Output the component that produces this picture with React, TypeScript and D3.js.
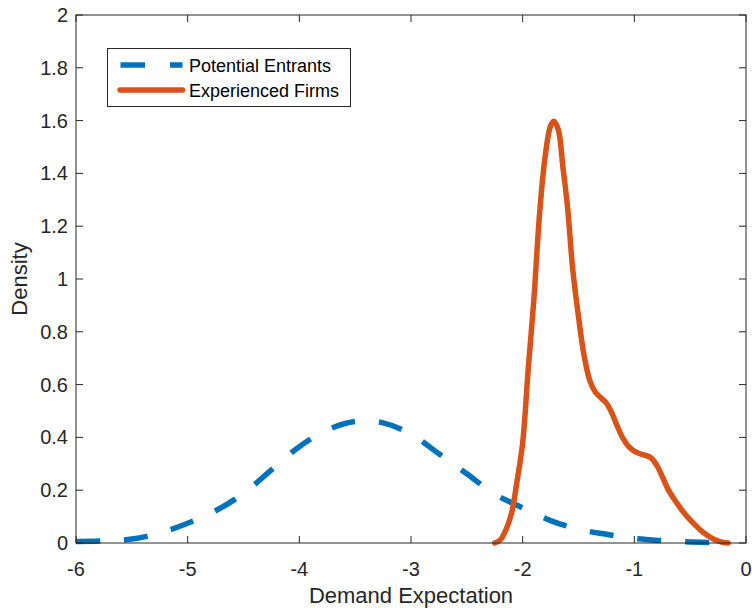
import { useRef, useEffect } from "react";
import * as d3 from "d3";

const entrantX = [-6, -5.75, -5.5, -5.25, -5, -4.75, -4.5, -4.25, -4, -3.75, -3.5, -3.25, -3, -2.75, -2.5, -2.25, -2, -1.75, -1.5, -1.25, -1, -0.75, -0.5, -0.25];
const entrantY = [0.006, 0.008, 0.015, 0.038, 0.075, 0.122, 0.188, 0.277, 0.365, 0.428, 0.46, 0.455, 0.412, 0.338, 0.262, 0.185, 0.133, 0.085, 0.052, 0.033, 0.017, 0.009, 0.004, 0.001];

const firmX = [-2.25, -2.2, -2.15, -2.1, -2.05, -2, -1.95, -1.9, -1.85, -1.8, -1.75, -1.72, -1.68, -1.64, -1.6, -1.55, -1.5, -1.45, -1.4, -1.35, -1.3, -1.25, -1.2, -1.15, -1.1, -1.05, -1, -0.95, -0.9, -0.85, -0.8, -0.75, -0.7, -0.65, -0.6, -0.55, -0.5, -0.45, -0.4, -0.35, -0.3, -0.25, -0.2, -0.16];
const firmY = [0, 0.012, 0.05, 0.112, 0.235, 0.38, 0.66, 0.92, 1.24, 1.46, 1.58, 1.598, 1.564, 1.425, 1.28, 1.03, 0.857, 0.71, 0.617, 0.572, 0.55, 0.53, 0.491, 0.44, 0.395, 0.365, 0.348, 0.338, 0.332, 0.322, 0.295, 0.252, 0.205, 0.17, 0.14, 0.112, 0.088, 0.066, 0.046, 0.03, 0.017, 0.008, 0.002, 0];

const xTicks = [-6, -5, -4, -3, -2, -1, 0];
const yTicks = [0, 0.2, 0.4, 0.6, 0.8, 1, 1.2, 1.4, 1.6, 1.8, 2];
const seriesNames = ["Potential Entrants", "Experienced Firms"];

export default function App() {
  const ref = useRef<SVGSVGElement>(null);

  useEffect(() => {
    const width = 752;
    const height = 608;
    const margin = { top: 15, right: 6, bottom: 65, left: 76 };
    const axisColor = "#262626";
    const font = "Liberation Sans, Arial, Helvetica, sans-serif";

    const svg = d3.select(ref.current);
    svg.selectAll("*").remove();
    svg.attr("width", width).attr("height", height).attr("font-family", font);

    const x = d3.scaleLinear().domain([-6, 0]).range([margin.left, width - margin.right]);
    const y = d3.scaleLinear().domain([0, 2]).range([height - margin.bottom, margin.top]);
    const [x0, x1] = x.range();
    const [y0, y1] = y.range();

    const line = d3
      .line<[number, number]>()
      .x((d) => x(d[0]))
      .y((d) => y(d[1]))
      .curve(d3.curveCatmullRom.alpha(0.5));

    // curves
    svg
      .append("path")
      .attr("d", line(entrantX.map((v, i) => [v, entrantY[i]])))
      .attr("fill", "none")
      .attr("stroke", "#0072BD")
      .attr("stroke-width", 5.5)
      .attr("stroke-dasharray", "24 24");

    svg
      .append("path")
      .attr("d", line(firmX.map((v, i) => [v, firmY[i]])))
      .attr("fill", "none")
      .attr("stroke", "#D95319")
      .attr("stroke-width", 5.5)
      .attr("stroke-linejoin", "round")
      .attr("stroke-linecap", "round");

    // box
    svg
      .append("rect")
      .attr("x", x0)
      .attr("y", y1)
      .attr("width", x1 - x0)
      .attr("height", y0 - y1)
      .attr("fill", "none")
      .attr("stroke", axisColor)
      .attr("stroke-width", 1);

    const tick = 7;
    const g = svg.append("g").attr("stroke", axisColor).attr("stroke-width", 1);
    xTicks.forEach((t) => {
      g.append("line").attr("x1", x(t)).attr("x2", x(t)).attr("y1", y0).attr("y2", y0 - tick);
      g.append("line").attr("x1", x(t)).attr("x2", x(t)).attr("y1", y1).attr("y2", y1 + tick);
    });
    yTicks.forEach((t) => {
      g.append("line").attr("x1", x0).attr("x2", x0 + tick).attr("y1", y(t)).attr("y2", y(t));
      g.append("line").attr("x1", x1).attr("x2", x1 - tick).attr("y1", y(t)).attr("y2", y(t));
    });

    svg
      .append("g")
      .selectAll("text")
      .data(xTicks)
      .join("text")
      .attr("x", (d) => x(d))
      .attr("y", y0 + 33)
      .attr("text-anchor", "middle")
      .attr("font-size", 20)
      .attr("fill", axisColor)
      .text((d) => String(d));

    svg
      .append("g")
      .selectAll("text")
      .data(yTicks)
      .join("text")
      .attr("x", x0 - 8)
      .attr("y", (d) => y(d) + 7)
      .attr("text-anchor", "end")
      .attr("font-size", 20)
      .attr("fill", axisColor)
      .text((d) => d3.format("~g")(d));

    svg
      .append("text")
      .attr("x", (x0 + x1) / 2)
      .attr("y", 603)
      .attr("text-anchor", "middle")
      .attr("font-size", 22)
      .attr("fill", axisColor)
      .text("Demand Expectation");

    svg
      .append("text")
      .attr("transform", `translate(27,${(y0 + y1) / 2}) rotate(-90)`)
      .attr("text-anchor", "middle")
      .attr("font-size", 22)
      .attr("fill", axisColor)
      .text("Density");

    // legend
    const lg = svg.append("g");
    lg.append("rect")
      .attr("x", 107.5)
      .attr("y", 48.5)
      .attr("width", 243)
      .attr("height", 58)
      .attr("fill", "white")
      .attr("stroke", axisColor)
      .attr("stroke-width", 1);
    const legendColors = ["#0072BD", "#D95319"];
    seriesNames.forEach((name, i) => {
      const ly = 65 + i * 25;
      lg.append("line")
        .attr("x1", i === 0 ? 120.5 : 120)
        .attr("x2", 182.5)
        .attr("y1", ly)
        .attr("y2", ly)
        .attr("stroke", legendColors[i])
        .attr("stroke-width", 5.5)
        .attr("stroke-linecap", i === 0 ? "butt" : "round")
        .attr("stroke-dasharray", i === 0 ? "24.5 25" : null);
      lg.append("text")
        .attr("x", 189)
        .attr("y", ly + 6.5)
        .attr("font-size", 18)
        .attr("fill", "black")
        .text(name);
    });
  }, []);

  return <svg ref={ref} style={{ position: "absolute", left: 0, top: 0 }}></svg>;
}
